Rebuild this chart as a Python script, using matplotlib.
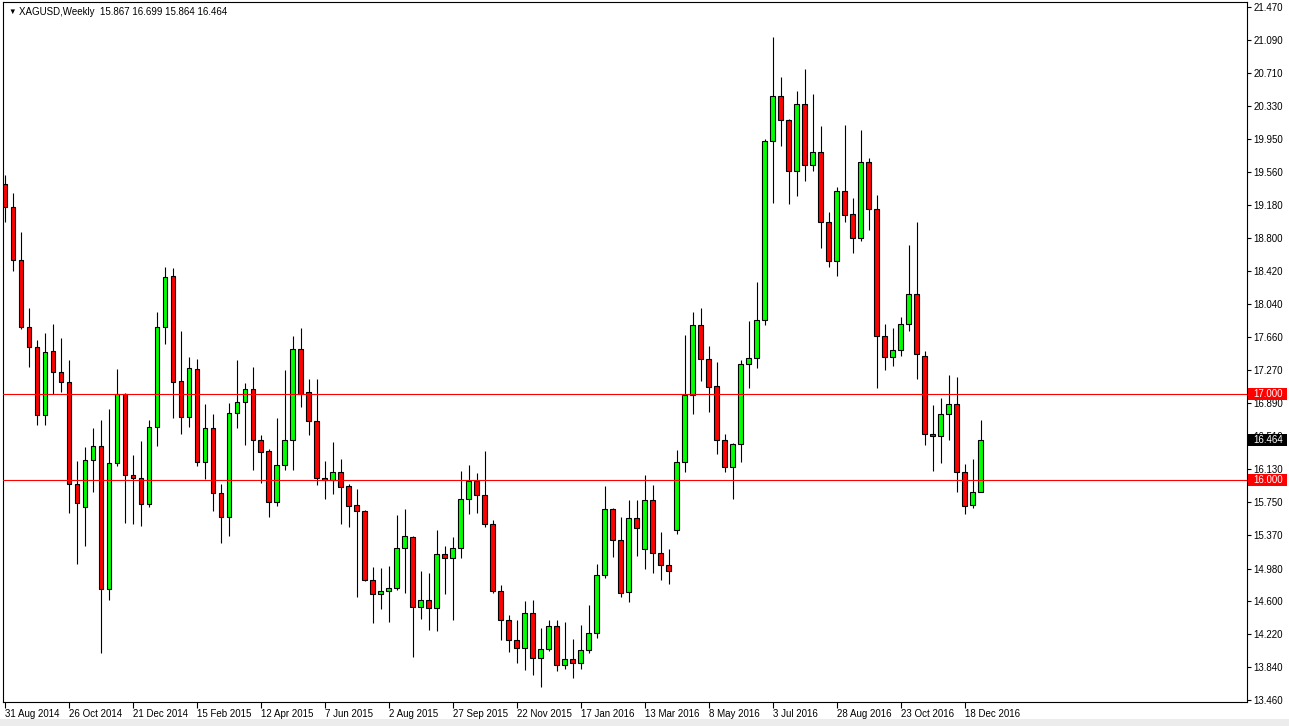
import matplotlib.pyplot as plt
from matplotlib.patches import Rectangle
from matplotlib.transforms import blended_transform_factory

title = 'XAGUSD,Weekly  15.867 16.699 15.864 16.464'

# weekly candles, first bar = 31 Aug 2014
opens = [19.43, 19.16, 18.55, 17.77, 17.54, 16.75, 17.49, 17.25, 17.14, 15.96,
         15.69, 16.23, 16.40, 14.74, 16.20, 17.00, 16.06, 16.03, 15.72, 16.61,
         17.77, 18.36, 17.15, 16.73, 17.29, 16.21, 16.60, 15.85, 15.58, 16.78,
         16.90, 17.06, 16.46, 16.34, 15.75, 16.18, 16.46, 17.52, 17.02, 16.69,
         16.03, 16.00, 16.10, 15.93, 15.71, 15.64, 14.85, 14.68, 14.72, 14.75,
         15.22, 15.34, 14.53, 14.62, 14.52, 15.15, 15.10, 15.22, 15.78, 15.99,
         15.83, 15.50, 14.72, 14.38, 14.15, 14.06, 14.47, 13.94, 14.05, 14.32,
         13.87, 13.93, 13.89, 14.04, 14.24, 14.91, 15.67, 15.31, 14.71, 15.56,
         15.20, 15.77, 15.16, 15.02, 15.42, 16.21, 16.98, 17.79, 17.40, 17.09,
         16.46, 16.15, 16.42, 17.34, 17.41, 17.85, 19.92, 20.44, 20.16, 19.58,
         20.35, 19.64, 19.79, 18.98, 18.54, 19.34, 19.08, 18.80, 19.68, 19.13,
         17.67, 17.43, 17.50, 17.81, 18.15, 17.44, 16.54, 16.51, 16.77, 16.88,
         16.09, 15.71, 15.867]
highs = [19.53, 19.32, 18.87, 17.99, 17.62, 17.70, 17.81, 17.64, 17.39, 16.22,
         16.38, 16.60, 16.70, 16.82, 17.29, 17.01, 16.29, 16.45, 16.70, 17.94,
         18.47, 18.45, 17.72, 17.42, 17.40, 16.88, 16.77, 15.96, 16.89, 17.39,
         17.12, 17.31, 16.52, 16.36, 16.72, 17.27, 17.67, 17.76, 17.17, 17.17,
         16.22, 16.44, 16.25, 15.96, 15.90, 15.66, 15.00, 14.99, 15.01, 15.60,
         15.67, 15.35, 14.95, 14.93, 15.42, 15.24, 15.34, 16.11, 16.18, 16.08,
         16.34, 15.54, 14.79, 14.44, 14.38, 14.60, 14.62, 14.29, 14.38, 14.38,
         14.36, 14.17, 14.33, 14.56, 15.03, 15.93, 15.68, 15.57, 15.77, 15.77,
         16.06, 15.95, 15.40, 15.20, 16.35, 17.68, 17.94, 17.99, 17.55, 17.37,
         16.54, 16.43, 17.39, 17.84, 18.29, 19.95, 21.12, 20.66, 20.18, 20.50,
         20.75, 20.46, 20.09, 19.10, 19.39, 20.11, 19.26, 20.05, 19.72, 19.30,
         17.81, 17.76, 17.89, 18.72, 18.98, 17.49, 16.87, 16.95, 17.22, 17.19,
         16.19, 16.25, 16.699]
lows = [18.99, 18.42, 17.75, 17.31, 16.64, 16.64, 17.00, 17.02, 15.62, 15.03,
        15.24, 15.87, 14.00, 14.62, 16.16, 15.51, 15.50, 15.47, 15.69, 16.40,
        17.57, 16.72, 16.54, 16.61, 16.16, 16.02, 15.65, 15.27, 15.36, 16.60,
        16.41, 16.12, 15.97, 15.58, 15.70, 16.12, 16.12, 16.85, 16.52, 15.94,
        15.78, 15.84, 15.49, 15.46, 14.65, 14.83, 14.35, 14.51, 14.36, 14.73,
        14.70, 13.96, 14.40, 14.27, 14.26, 14.69, 14.38, 15.10, 15.61, 15.62,
        15.46, 14.70, 14.15, 14.02, 13.89, 13.81, 13.75, 13.61, 14.03, 13.80,
        13.82, 13.72, 13.82, 14.00, 14.18, 14.87, 15.11, 14.65, 14.59, 15.13,
        14.98, 14.93, 14.85, 14.80, 15.38, 16.09, 16.77, 17.15, 16.79, 16.30,
        16.09, 15.78, 16.21, 17.07, 17.30, 17.80, 19.20, 19.86, 19.19, 19.28,
        19.46, 19.57, 18.68, 18.46, 18.36, 18.99, 18.63, 18.76, 18.89, 17.07,
        17.27, 17.32, 17.44, 17.72, 17.17, 16.41, 16.11, 16.20, 16.47, 15.86,
        15.61, 15.68, 15.864]
closes = [19.16, 18.55, 17.77, 17.54, 16.75, 17.48, 17.25, 17.14, 15.96, 15.74,
          16.23, 16.40, 14.74, 16.20, 17.00, 16.06, 16.03, 15.72, 16.61, 17.77,
          18.35, 17.14, 16.73, 17.30, 16.21, 16.60, 15.85, 15.58, 16.78, 16.90,
          17.06, 16.46, 16.33, 15.75, 16.18, 16.46, 17.52, 17.00, 16.69, 16.03,
          16.00, 16.10, 15.92, 15.70, 15.64, 14.85, 14.68, 14.72, 14.75, 15.22,
          15.35, 14.53, 14.62, 14.52, 15.15, 15.10, 15.22, 15.78, 15.99, 15.83,
          15.50, 14.72, 14.38, 14.15, 14.06, 14.47, 13.94, 14.05, 14.32, 13.87,
          13.93, 13.89, 14.04, 14.24, 14.91, 15.67, 15.31, 14.70, 15.56, 15.45,
          15.77, 15.16, 15.02, 14.95, 16.21, 16.98, 17.79, 17.40, 17.08, 16.46,
          16.15, 16.42, 17.34, 17.41, 17.85, 19.92, 20.44, 20.16, 19.57, 20.35,
          19.64, 19.79, 18.98, 18.54, 19.34, 19.07, 18.80, 19.68, 19.13, 17.67,
          17.43, 17.50, 17.81, 18.15, 17.46, 16.54, 16.51, 16.77, 16.88, 16.09,
          15.70, 15.87, 16.464]

price_ticks = [21.47, 21.09, 20.71, 20.33, 19.95, 19.56, 19.18, 18.80, 18.42, 18.04,
               17.66, 17.27, 16.89, 16.51, 16.13, 15.75, 15.37, 14.98, 14.60, 14.22,
               13.84, 13.46]
date_labels = ['31 Aug 2014', '26 Oct 2014', '21 Dec 2014', '15 Feb 2015', '12 Apr 2015',
               '7 Jun 2015', '2 Aug 2015', '27 Sep 2015', '22 Nov 2015', '17 Jan 2016',
               '13 Mar 2016', '8 May 2016', '3 Jul 2016', '28 Aug 2016', '23 Oct 2016',
               '18 Dec 2016']
date_every = 8
levels = [17.0, 16.0]
last_price = closes[-1]

plt.rcParams['font.family'] = ['Liberation Sans', 'DejaVu Sans']
FS = 7

W, H = 1289, 726
fig = plt.figure(figsize=(W / 100, H / 100), dpi=100)
ax = fig.add_axes([3 / W, 1 - 702 / H, 1243.5 / W, 700 / H])

lw = 0.8
for i, (o, h, l, c) in enumerate(zip(opens, highs, lows, closes)):
    ax.vlines(i, l, h, color='black', lw=lw, zorder=2)
    col = '#00ff00' if c >= o else '#ff0000'
    ax.bar(i, max(abs(c - o), 0.012), bottom=min(o, c), width=0.62,
           color=col, edgecolor='black', linewidth=lw, zorder=3)

for lv in levels:
    ax.axhline(lv, color='#ff0000', lw=lw, zorder=4)

ax.set_xlim(-0.25, 155.2)
ax.set_ylim(13.437, 21.528)

ax.yaxis.tick_right()
ax.set_yticks(price_ticks)
ax.set_yticklabels(['%.3f' % v for v in price_ticks])
ax.set_xticks(range(0, len(opens), date_every)[:len(date_labels)])
ax.set_xticklabels(date_labels)
for t in ax.get_xticklabels():
    t.set_ha('left')
ax.tick_params(axis='y', direction='out', length=3, width=lw, labelsize=FS, pad=2)
ax.tick_params(axis='x', direction='out', length=4, width=lw, labelsize=FS, pad=1)
for sp in ax.spines.values():
    sp.set_linewidth(lw)

# price tags on the right scale (opaque boxes over the scale)
trans = blended_transform_factory(ax.transAxes, ax.transData)
px_per_unit = 700 / (21.528 - 13.437)
box_h = 12 / px_per_unit
box_w = 39 / 1243.5
for val, bg in [(levels[0], '#ff0000'), (levels[1], '#ff0000'), (last_price, 'black')]:
    ax.add_patch(Rectangle((1.0015, val - box_h / 2), box_w, box_h, transform=trans,
                           fc=bg, ec='none', clip_on=False, zorder=6))
    ax.text(1.0015 + box_w / 2, val, '%.3f' % val, transform=trans, ha='center',
            va='center', fontsize=FS, color='white', zorder=7, clip_on=False)

fig.text(8 / W, 1 - 12 / H, '\u25bc', fontsize=5.5, va='center', ha='left')
fig.text(19 / W, 1 - 12 / H, title, fontsize=FS, va='center', ha='left')

fig.patches.append(Rectangle((0, 0), 1, 7 / H, transform=fig.transFigure,
                             fc='#ececec', ec='none'))

fig.savefig('out.png', dpi=100)
